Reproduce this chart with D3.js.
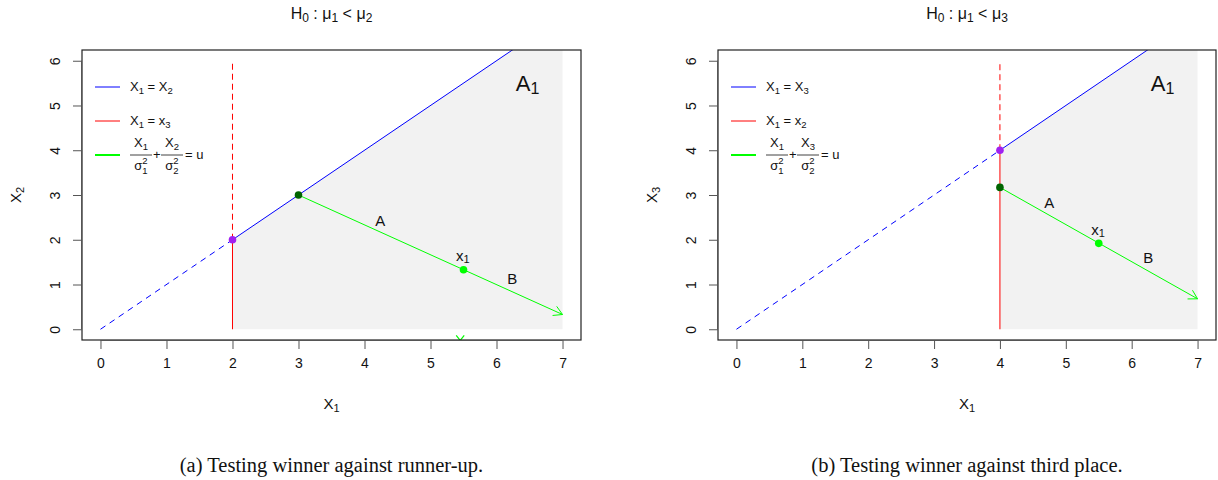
<!DOCTYPE html>
<html><head><meta charset="utf-8">
<script src="https://cdn.jsdelivr.net/npm/d3@7"></script>
<style>body{margin:0;background:#fff}svg{display:block}</style>
</head><body>
<svg id="c" width="1218" height="480"></svg>
<script>
// ---- data ----
const xTicks = [0,1,2,3,4,5,6,7];
const yTicks = [0,1,2,3,4,5,6];
const panelIds = ["a","b"];
const titleSub = ["2","3"];            // H0: mu1 < mu_k
const yLabelSub = ["2","3"];
const legendBlueSub = ["2","3"];       // X1 = X_k
const legendRedSub = ["3","2"];        // X1 = x_k
const legendFracSub = ["2","3"];
const captions = ["(a) Testing winner against runner-up.","(b) Testing winner against third place."];
const cutX = [2, 4];                   // vertical red line x = x_k
const greenStartY = [3, 3.17];         // dark green point on the blue/red line
const greenStartX = [3, 4];
const pointX1 = [[5.5,1.33],[5.5,1.92]];
const arrowEnd = [[7,0.33],[7,0.68]];
const labelA = [[4.24,2.44],[4.75,2.83]];
const labelX1 = [[5.49,1.65],[5.49,2.25]];
const labelB = [[6.24,1.14],[6.25,1.6]];
const labelA1 = [6.47,5.5];
const stray = [[5.45,-0.25],null];
const xDomain = [-0.28, 7.28], yDomain = [-0.24, 6.24];
const regionRight = 7;

const svg = d3.select("#c");
const font = "'Liberation Sans', Arial, Helvetica, sans-serif";
const boxes = [{l:82,r:581,t:50,b:340},{l:718,r:1216,t:50,b:340}];

panelIds.forEach((id,i)=>{
  const B = boxes[i];
  const x = d3.scaleLinear().domain(xDomain).range([B.l,B.r]);
  const y = d3.scaleLinear().domain(yDomain).range([B.b,B.t]);
  const g = svg.append("g");
  const clipId = "clip"+id;
  svg.append("clipPath").attr("id",clipId).append("rect")
    .attr("x",B.l).attr("y",B.t).attr("width",B.r-B.l).attr("height",B.b-B.t);
  const p = g.append("g").attr("clip-path",`url(#${clipId})`);
  const yTop = yDomain[1];
  const line = d3.line().x(d=>x(d[0])).y(d=>y(d[1]));
  // gray region
  p.append("path").attr("d", line([[cutX[i],0],[cutX[i],cutX[i]],[yTop,yTop],[regionRight,yTop],[regionRight,0]])+"Z")
    .attr("fill","#f2f2f2");
  // blue line y=x
  p.append("path").attr("d",line([[0,0],[cutX[i],cutX[i]]])).attr("stroke","#0000ff").attr("stroke-width",1).attr("stroke-dasharray","6,5").attr("fill","none");
  p.append("path").attr("d",line([[cutX[i],cutX[i]],[8,8]])).attr("stroke","#0000ff").attr("stroke-width",1).attr("fill","none");
  // red line
  p.append("path").attr("d",line([[cutX[i],0],[cutX[i],cutX[i]]])).attr("stroke","#ff0000").attr("stroke-width",1).attr("fill","none");
  p.append("path").attr("d",line([[cutX[i],cutX[i]],[cutX[i],6]])).attr("stroke","#ff0000").attr("stroke-width",1).attr("stroke-dasharray","6,4").attr("fill","none");
  // green arrow
  const s=[greenStartX[i],greenStartY[i]], e=arrowEnd[i];
  p.append("path").attr("d",line([s,e])).attr("stroke","#00ff00").attr("stroke-width",1).attr("fill","none");
  const ang = Math.atan2(y(e[1])-y(s[1]), x(e[0])-x(s[0]));
  const L=10, a=Math.PI/6;
  const ex=x(e[0]), ey=y(e[1]);
  p.append("path").attr("d",`M${ex-L*Math.cos(ang-a)},${ey-L*Math.sin(ang-a)}L${ex},${ey}L${ex-L*Math.cos(ang+a)},${ey-L*Math.sin(ang+a)}`)
    .attr("stroke","#00ff00").attr("stroke-width",1).attr("fill","none");
  if(stray[i]){
    const sx=x(stray[i][0]), sy=y(stray[i][1]);
    p.append("path").attr("d",`M${sx-4},${sy-5}L${sx},${sy}L${sx+4},${sy-5}`).attr("stroke","#00ff00").attr("stroke-width",1.2).attr("fill","none");
  }
  // points
  p.append("circle").attr("cx",x(cutX[i])).attr("cy",y(cutX[i])).attr("r",3.8).attr("fill","#a020f0");
  p.append("circle").attr("cx",x(s[0])).attr("cy",y(s[1])).attr("r",3.8).attr("fill","#006400");
  p.append("circle").attr("cx",x(pointX1[i][0])).attr("cy",y(pointX1[i][1])).attr("r",3.8).attr("fill","#00ff00");
  // labels
  const txt=(pos,str,size)=>p.append("text").attr("x",x(pos[0])).attr("y",y(pos[1])).attr("text-anchor","middle").attr("dominant-baseline","central").attr("font-family",font).attr("font-size",size).attr("fill","#111").text(str);
  txt(labelA[i],"A",15); txt(labelB[i],"B",15);
  const tx = p.append("text").attr("x",x(labelX1[i][0])).attr("y",y(labelX1[i][1])).attr("text-anchor","middle").attr("dominant-baseline","central").attr("font-family",font).attr("font-size",15).attr("fill","#111");
  tx.append("tspan").text("x"); tx.append("tspan").attr("font-size",11).attr("dy",4).text("1");
  const ta = p.append("text").attr("x",x(labelA1[0])).attr("y",y(labelA1[1])).attr("text-anchor","middle").attr("dominant-baseline","central").attr("font-family",font).attr("font-size",22).attr("fill","#111");
  ta.append("tspan").text("A"); ta.append("tspan").attr("font-size",16).attr("dy",5).text("1");

  // box
  g.append("rect").attr("x",B.l).attr("y",B.t).attr("width",B.r-B.l).attr("height",B.b-B.t).attr("fill","none").attr("stroke","#222").attr("stroke-width",1.2);
  // axes
  const xa = g.append("g").attr("transform",`translate(0,${B.b})`).call(d3.axisBottom(x).tickValues(xTicks).tickSize(9).tickPadding(9).tickFormat(d3.format("d")));
  xa.select(".domain").attr("d",`M${x(0)},0.5H${x(7)}`).attr("stroke","#555");
  xa.selectAll(".tick line").attr("stroke","#555");
  xa.selectAll("text").attr("font-family",font).attr("font-size",14).attr("fill","#111");
  const ya = g.append("g").attr("transform",`translate(${B.l},0)`).call(d3.axisLeft(y).tickValues(yTicks).tickSize(9).tickFormat(d3.format("d")));
  ya.select(".domain").attr("d",`M-0.5,${y(0)}V${y(6)}`).attr("stroke","#555");
  ya.selectAll(".tick line").attr("stroke","#555");
  ya.selectAll(".tick text").attr("font-family",font).attr("font-size",14).attr("fill","#111")
    .attr("x",null).attr("dy",null).attr("text-anchor","middle").attr("dominant-baseline","central")
    .attr("transform","translate(-27,0) rotate(-90)");
  // axis titles
  const cx=(B.l+B.r)/2;
  const xl = g.append("text").attr("x",cx).attr("y",409).attr("text-anchor","middle").attr("font-family",font).attr("font-size",15).attr("fill","#111");
  xl.append("tspan").text("X"); xl.append("tspan").attr("font-size",11).attr("dy",3).text("1");
  const yl = g.append("text").attr("transform",`translate(${B.l-61},195) rotate(-90)`).attr("text-anchor","middle").attr("font-family",font).attr("font-size",15).attr("fill","#111");
  yl.append("tspan").text("X"); yl.append("tspan").attr("font-size",11).attr("dy",3).text(yLabelSub[i]);
  // title
  const tt = g.append("text").attr("x",cx).attr("y",19).attr("text-anchor","middle").attr("font-family",font).attr("font-size",16).attr("fill","#111");
  tt.append("tspan").text("H"); tt.append("tspan").attr("font-size",12).attr("dy",3).text("0");
  tt.append("tspan").attr("dy",-3).text(" :  μ"); tt.append("tspan").attr("font-size",12).attr("dy",3).text("1");
  tt.append("tspan").attr("dy",-3).text(" < μ"); tt.append("tspan").attr("font-size",12).attr("dy",3).text(titleSub[i]);
  // legend
  const lx0=B.l+13, lx1=B.l+38, tx0=B.l+48;
  const leg = g.append("g").attr("font-family",font).attr("font-size",13).attr("fill","#111");
  const ly=[87,121,155];
  leg.append("line").attr("x1",lx0).attr("x2",lx1).attr("y1",ly[0]).attr("y2",ly[0]).attr("stroke","#0000ff");
  leg.append("line").attr("x1",lx0).attr("x2",lx1).attr("y1",ly[1]).attr("y2",ly[1]).attr("stroke","#ff0000");
  leg.append("line").attr("x1",lx0).attr("x2",lx1).attr("y1",ly[2]).attr("y2",ly[2]).attr("stroke","#00ff00").attr("stroke-width",2);
  const t1=leg.append("text").attr("x",tx0).attr("y",ly[0]+4);
  t1.append("tspan").text("X"); t1.append("tspan").attr("font-size",9.5).attr("dy",3).text("1");
  t1.append("tspan").attr("dy",-3).text(" = X"); t1.append("tspan").attr("font-size",9.5).attr("dy",3).text(legendBlueSub[i]);
  const t2=leg.append("text").attr("x",tx0).attr("y",ly[1]+4);
  t2.append("tspan").text("X"); t2.append("tspan").attr("font-size",9.5).attr("dy",3).text("1");
  t2.append("tspan").attr("dy",-3).text(" = x"); t2.append("tspan").attr("font-size",9.5).attr("dy",3).text(legendRedSub[i]);
  // fraction
  const frac=(fx,numSub,denSub)=>{
    const n=leg.append("text").attr("x",fx+11).attr("y",ly[2]-8).attr("text-anchor","middle");
    n.append("tspan").text("X"); n.append("tspan").attr("font-size",9.5).attr("dy",3).text(numSub);
    leg.append("line").attr("x1",fx).attr("x2",fx+22).attr("y1",ly[2]).attr("y2",ly[2]).attr("stroke","#111").attr("stroke-width",0.8);
    const d=leg.append("text").attr("x",fx+11).attr("y",ly[2]+15).attr("text-anchor","middle");
    d.append("tspan").text("σ");
    d.append("tspan").attr("font-size",9.5).attr("dy",-6).text("2");
    d.append("tspan").attr("font-size",9.5).attr("dx",-5.5).attr("dy",10).text(denSub);
  };
  frac(tx0,"1","1");
  leg.append("text").attr("x",tx0+23).attr("y",ly[2]+4).text("+");
  frac(tx0+31,legendFracSub[i],"2");
  leg.append("text").attr("x",tx0+55).attr("y",ly[2]+4).text("= u");
  // caption
  svg.append("text").attr("x",cx).attr("y",472).attr("text-anchor","middle").attr("font-family","'Liberation Serif', 'Times New Roman', serif").attr("font-size",20.5).attr("fill","#111").text(captions[i]);
});
</script>
</body></html>
